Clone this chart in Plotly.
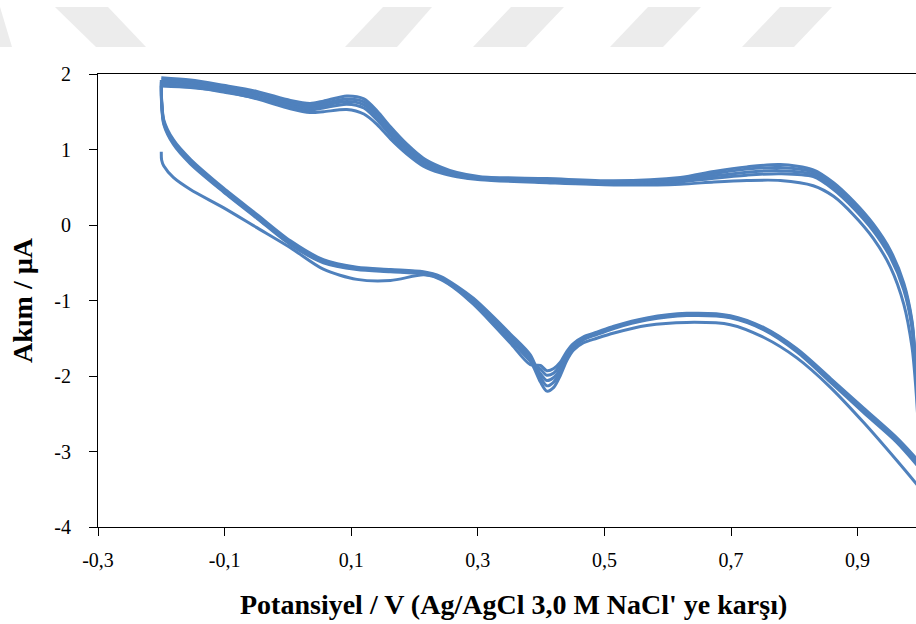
import plotly.graph_objects as go

# ---------------- data ----------------
# potential grid of the anodic (forward) sweep, V
E_fwd = [-0.200, -0.1995, -0.196, -0.181, -0.154, -0.102, -0.049, 0.004, 0.056, 0.109,
         0.162, 0.214, 0.241, 0.267, 0.293, 0.320, 0.351, 0.383, 0.399, 0.409,
         0.420, 0.430, 0.441, 0.451, 0.467, 0.488, 0.515, 0.567, 0.630, 0.699,
         0.752, 0.804, 0.857, 0.910, 0.962, 1.000]
# potential grid of the reverse sweep, V
E_rev = [1.000, 0.996, 0.991, 0.986, 0.973, 0.952, 0.925, 0.894, 0.862, 0.830,
         0.778, 0.725, 0.673, 0.620, 0.515, 0.409, 0.304, 0.267, 0.241, 0.214,
         0.188, 0.162, 0.141, 0.120, 0.093, 0.056, 0.035, 0.004, -0.049, -0.102,
         -0.154, -0.200]

# current (uA) per cycle, forward sweep
I_fwd_1 = [0.97, 0.86, 0.78, 0.63, 0.47, 0.23, -0.035, -0.30, -0.585, -0.72,
           -0.735, -0.66, -0.70, -0.83, -1.00, -1.22, -1.50, -1.80, -2.08, -2.20,
           -2.15, -2.00, -1.79, -1.66, -1.56, -1.50, -1.43, -1.33, -1.29, -1.32,
           -1.49, -1.76, -2.15, -2.62, -3.12, -3.50]
I_fwd_2 = [1.84, 1.66, 1.39, 1.13, 0.87, 0.49, 0.14, -0.21, -0.46, -0.56,
           -0.59, -0.62, -0.68, -0.81, -0.97, -1.18, -1.44, -1.72, -2.02, -2.13,
           -2.08, -1.95, -1.76, -1.63, -1.52, -1.45, -1.37, -1.26, -1.20, -1.23,
           -1.39, -1.68, -2.08, -2.49, -2.88, -3.24]
I_fwd_3 = [1.86, 1.64, 1.37, 1.11, 0.85, 0.47, 0.12, -0.23, -0.47, -0.57,
           -0.60, -0.63, -0.70, -0.83, -1.00, -1.21, -1.48, -1.76, -1.97, -2.06,
           -2.02, -1.91, -1.73, -1.61, -1.50, -1.44, -1.36, -1.25, -1.19, -1.22,
           -1.38, -1.66, -2.06, -2.47, -2.86, -3.21]
I_fwd_4 = [1.89, 1.62, 1.35, 1.09, 0.83, 0.45, 0.10, -0.25, -0.49, -0.58,
           -0.61, -0.64, -0.71, -0.85, -1.03, -1.25, -1.52, -1.80, -1.91, -1.99,
           -1.96, -1.86, -1.70, -1.59, -1.49, -1.43, -1.35, -1.24, -1.18, -1.21,
           -1.37, -1.65, -2.04, -2.45, -2.84, -3.19]
I_fwd_5 = [1.92, 1.60, 1.33, 1.07, 0.81, 0.44, 0.09, -0.26, -0.50, -0.59,
           -0.62, -0.65, -0.72, -0.86, -1.05, -1.28, -1.56, -1.85, -1.86, -1.93,
           -1.90, -1.82, -1.67, -1.57, -1.48, -1.42, -1.34, -1.23, -1.17, -1.20,
           -1.36, -1.64, -2.03, -2.43, -2.82, -3.16]

# current (uA) per cycle, reverse sweep
I_rev_1 = [-3.50, -2.70, -2.05, -1.62, -1.05, -0.56, -0.18, 0.13, 0.38, 0.52,
           0.59, 0.59, 0.57, 0.54, 0.53, 0.56, 0.60, 0.64, 0.69, 0.78,
           0.94, 1.14, 1.33, 1.47, 1.53, 1.50, 1.49, 1.54, 1.67, 1.77,
           1.82, 1.84]
I_rev_2 = [-3.24, -2.45, -1.86, -1.36, -0.86, -0.43, -0.08, 0.22, 0.47, 0.64,
           0.68, 0.66, 0.62, 0.57, 0.54, 0.57, 0.61, 0.65, 0.71, 0.81,
           0.98, 1.19, 1.39, 1.55, 1.60, 1.55, 1.52, 1.56, 1.68, 1.76,
           1.83, 1.86]
I_rev_3 = [-3.21, -2.41, -1.82, -1.33, -0.83, -0.40, -0.05, 0.25, 0.50, 0.67,
           0.72, 0.70, 0.65, 0.59, 0.555, 0.585, 0.62, 0.665, 0.73, 0.835,
           1.01, 1.23, 1.43, 1.59, 1.635, 1.58, 1.55, 1.59, 1.71, 1.79,
           1.86, 1.89]
I_rev_4 = [-3.19, -2.37, -1.78, -1.30, -0.80, -0.37, -0.02, 0.28, 0.53, 0.70,
           0.76, 0.74, 0.68, 0.61, 0.57, 0.60, 0.63, 0.68, 0.75, 0.86,
           1.04, 1.27, 1.47, 1.63, 1.67, 1.61, 1.58, 1.62, 1.74, 1.82,
           1.89, 1.92]
I_rev_5 = [-3.16, -2.33, -1.74, -1.27, -0.77, -0.34, 0.01, 0.31, 0.56, 0.73,
           0.80, 0.77, 0.71, 0.63, 0.585, 0.615, 0.64, 0.695, 0.77, 0.885,
           1.07, 1.30, 1.51, 1.67, 1.71, 1.64, 1.61, 1.65, 1.77, 1.85,
           1.92, 1.95]

x_tick_vals = [-0.3, -0.1, 0.1, 0.3, 0.5, 0.7, 0.9]
x_tick_text = ["-0,3", "-0,1", "0,1", "0,3", "0,5", "0,7", "0,9"]
y_tick_vals = [-4, -3, -2, -1, 0, 1, 2]
y_tick_text = ["-4", "-3", "-2", "-1", "0", "1", "2"]

x_title = "Potansiyel / V (Ag/AgCl 3,0 M NaCl' ye karşı)"
y_title = "Akım / µA"

# ---------------- figure ----------------
W, H = 916, 624
ML, MR, MT, MB = 98, 0, 74, 97
PW, PH = W - ML - MR, H - MT - MB
LINE_COLOR = "#4F81BD"
FONT = "Liberation Serif"

fig = go.Figure()
cycles = [(I_fwd_1, I_rev_1), (I_fwd_2, I_rev_2), (I_fwd_3, I_rev_3),
          (I_fwd_4, I_rev_4), (I_fwd_5, I_rev_5)]
for k, (fw, rv) in enumerate(cycles):
    fig.add_trace(go.Scatter(
        x=E_fwd + E_rev, y=fw + rv, mode="lines",
        line=dict(color=LINE_COLOR, width=3, shape="spline", smoothing=0.8),
        showlegend=False, name=f"Döngü {k + 1}"))


def px2paper(px, py):
    return (px - ML) / PW, (H - MB - py) / PH


# faint watermark stripes at top of page (decorative, pixel-placed)
stripes = [
    [(55, 7), (108, 7), (146, 47), (96, 47)],
    [(-10, 7), (0, 7), (12, 47), (0, 47)],
    [(383, 7), (432, 7), (397, 47), (345, 47)],
    [(511, 7), (564, 7), (526, 47), (473, 47)],
    [(648, 7), (701, 7), (663, 47), (610, 47)],
    [(780, 7), (832, 7), (794, 47), (742, 47)],
]
shapes = []
for poly in stripes:
    pts = [px2paper(*p) for p in poly]
    path = "M " + " L ".join(f"{a:.5f},{b:.5f}" for a, b in pts) + " Z"
    shapes.append(dict(type="path", path=path, xref="paper", yref="paper",
                       fillcolor="#ececec", line=dict(width=0), layer="below"))

fig.update_layout(
    width=W, height=H,
    margin=dict(l=ML, r=MR, t=MT, b=MB),
    paper_bgcolor="white", plot_bgcolor="white",
    font=dict(family=FONT, color="black", size=20),
    shapes=shapes,
    annotations=[
        dict(text=x_title, xref="paper", yref="paper",
             x=px2paper(513, 0)[0], y=px2paper(0, 604)[1],
             xanchor="center", yanchor="middle", showarrow=False,
             font=dict(family=FONT, size=28, weight="bold", color="black")),
        dict(text=y_title, xref="paper", yref="paper",
             x=px2paper(22, 0)[0], y=px2paper(0, 300)[1],
             xanchor="center", yanchor="middle", showarrow=False, textangle=-90,
             font=dict(family=FONT, size=28, weight="bold", color="black")),
    ],
)
fig.update_xaxes(
    range=[-0.3, -0.3 + PW / 633.0], autorange=False,
    tickvals=x_tick_vals, ticktext=x_tick_text,
    ticks="outside", ticklen=8, tickwidth=1.2, tickcolor="black",
    showline=True, linecolor="black", linewidth=1.2, mirror=True,
    showgrid=False, zeroline=False, automargin=False,
    ticklabelstandoff=7, tickfont=dict(family=FONT, size=20),
)
fig.update_yaxes(
    range=[-4, 2], autorange=False,
    tickvals=y_tick_vals, ticktext=y_tick_text,
    ticks="outside", ticklen=8, tickwidth=1.2, tickcolor="black",
    showline=True, linecolor="black", linewidth=1.2, mirror=False,
    showgrid=False, zeroline=False, automargin=False,
    ticklabelstandoff=14, tickfont=dict(family=FONT, size=20),
)

fig.write_html("out.html")
